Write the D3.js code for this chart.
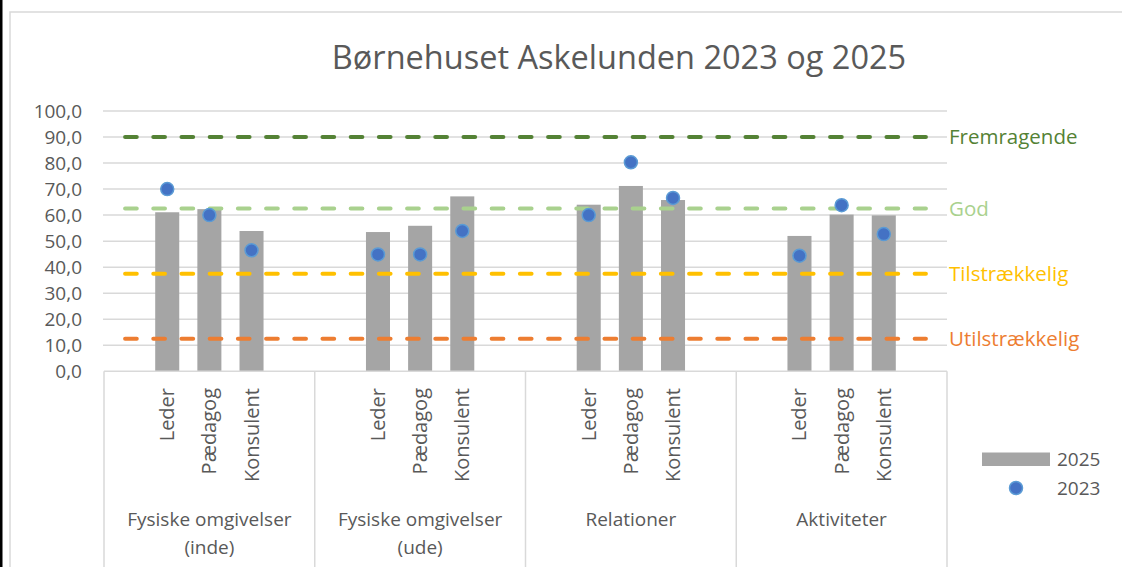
<!DOCTYPE html>
<html>
<head>
<meta charset="utf-8">
<script src="https://cdn.jsdelivr.net/npm/d3@7"></script>
<style>
  body { margin: 0; background: #fff; }
  svg text { font-family: "Open Sans", sans-serif; }
</style>
</head>
<body>
<div id="chart"></div>
<script>
let width = 1122;
let height = 567;

// data
const groups = ["Fysiske omgivelser (inde)", "Fysiske omgivelser (ude)", "Relationer", "Aktiviteter"];
const groupLines = [["Fysiske omgivelser", "(inde)"], ["Fysiske omgivelser", "(ude)"], ["Relationer"], ["Aktiviteter"]];
const roles = ["Leder", "Pædagog", "Konsulent"];
const values2025 = [61.1, 62.3, 53.9, 53.5, 55.9, 67.2, 64.0, 71.2, 65.8, 52.0, 60.2, 59.9];
const values2023 = [70.0, 60.0, 46.5, 44.9, 44.9, 53.9, 60.0, 80.3, 66.6, 44.4, 63.8, 52.7];
const levelNames = ["Fremragende", "God", "Tilstrækkelig", "Utilstrækkelig"];
const levelValues = [90, 62.5, 37.5, 12.5];
const levelColors = ["#548235", "#A9D18E", "#FFC000", "#ED7D31"];
const yTicks = [0, 10, 20, 30, 40, 50, 60, 70, 80, 90, 100];

// every group has an empty slot before and after the three roles
let slots = [];
groups.forEach((g, gi) => {
  slots.push(gi + "_a");
  roles.forEach(r => slots.push(gi + "_" + r));
  slots.push(gi + "_b");
});
let rows = [];
groups.forEach((g, gi) => roles.forEach((r, ri) => {
  rows.push({key: gi + "_" + r, role: r, v25: values2025[gi * 3 + ri], v23: values2023[gi * 3 + ri]});
}));

let svg = d3.select("#chart").append("svg")
  .attr("width", width).attr("height", height);

// outer frame
svg.append("rect").attr("x", 0).attr("y", 0).attr("width", 2.5).attr("height", height).attr("fill", "#000");
svg.append("path").attr("d", `M10,${height} V12 H${width}`)
  .attr("fill", "none").attr("stroke", "#D9D9D9").attr("stroke-width", 1.5);

let x0 = 104, x1 = 947, yTop = 111, yBot = 371.3;
let x = d3.scaleBand().domain(slots).range([x0, x1]).paddingInner(0.43).paddingOuter(0.215);
let xc = d3.scaleBand().domain(slots).range([x0, x1]);
let y = d3.scaleLinear().domain([0, 100]).range([yBot, yTop]);

svg.append("text")
  .attr("x", 619).attr("y", 69)
  .attr("text-anchor", "middle")
  .attr("font-size", 32.5).attr("fill", "#595959")
  .text("Børnehuset Askelunden 2023 og 2025");

// gridlines
svg.append("g").selectAll("line").data(yTicks.slice(1)).join("line")
  .attr("x1", x0 - 1).attr("x2", x1)
  .attr("y1", d => y(d)).attr("y2", d => y(d))
  .attr("stroke", "#D9D9D9").attr("stroke-width", 1.5);

// y axis labels
let yAxis = d3.axisLeft(y).tickValues(yTicks).tickSize(0).tickPadding(0)
  .tickFormat(d => d3.format(".1f")(d).replace(".", ","));
let ya = svg.append("g").attr("transform", `translate(82,0)`).call(yAxis);
ya.select(".domain").remove();
ya.selectAll("text").attr("font-size", 19).attr("fill", "#595959")
  .attr("font-family", "Open Sans, sans-serif");

// bars 2025
svg.append("g").selectAll("rect").data(rows).join("rect")
  .attr("x", d => x(d.key)).attr("width", x.bandwidth())
  .attr("y", d => y(d.v25)).attr("height", d => y(0) - y(d.v25))
  .attr("fill", "#A5A5A5");

// category axis: baseline and group boxes
svg.append("line").attr("x1", x0).attr("x2", x1).attr("y1", yBot).attr("y2", yBot)
  .attr("stroke", "#D9D9D9").attr("stroke-width", 1.5);
let bounds = groups.map((g, gi) => xc(gi + "_a")).concat([x1]);
svg.append("g").selectAll("line").data(bounds).join("line")
  .attr("x1", d => d).attr("x2", d => d).attr("y1", yBot).attr("y2", height)
  .attr("stroke", "#D9D9D9").attr("stroke-width", 1.5);

// level lines
let lvl = svg.append("g");
levelValues.forEach((v, i) => {
  lvl.append("line")
    .attr("x1", xc(slots[0]) + xc.bandwidth() / 2)
    .attr("x2", xc(slots[slots.length - 1]) + xc.bandwidth() / 2)
    .attr("y1", y(v)).attr("y2", y(v))
    .attr("stroke", levelColors[i]).attr("stroke-width", 4)
    .attr("stroke-linecap", "round").attr("stroke-dasharray", "11.7,16.5");
  lvl.append("text")
    .attr("x", 949).attr("y", y(v)).attr("dy", "0.36em")
    .attr("font-size", 20.5).attr("fill", levelColors[i])
    .text(levelNames[i]);
});

// dots 2023
svg.append("g").selectAll("circle").data(rows).join("circle")
  .attr("cx", d => x(d.key) + x.bandwidth() / 2).attr("cy", d => y(d.v23))
  .attr("r", 6.5).attr("fill", "#4472C4")
  .attr("stroke", "#5B9BD5").attr("stroke-width", 1.5);

// role labels (rotated)
svg.append("g").selectAll("text").data(rows).join("text")
  .attr("transform", d => `translate(${x(d.key) + x.bandwidth() / 2 + 7},388) rotate(-90)`)
  .attr("text-anchor", "end")
  .attr("font-size", 20).attr("fill", "#595959")
  .text(d => d.role);

// group labels
groupLines.forEach((lines, gi) => {
  let cx = (bounds[gi] + bounds[gi + 1]) / 2;
  let t = svg.append("text").attr("text-anchor", "middle")
    .attr("font-size", 19).attr("fill", "#595959");
  lines.forEach((l, li) => {
    t.append("tspan").attr("x", cx).attr("y", 526 + li * 28).text(l);
  });
});

// legend
svg.append("rect").attr("x", 982).attr("y", 452.5).attr("width", 68).attr("height", 13.5).attr("fill", "#A5A5A5");
svg.append("text").attr("x", 1057).attr("y", 459).attr("dy", "0.36em")
  .attr("font-size", 19).attr("fill", "#595959").text("2025");
svg.append("circle").attr("cx", 1016).attr("cy", 488).attr("r", 6.5)
  .attr("fill", "#4472C4").attr("stroke", "#5B9BD5").attr("stroke-width", 1.5);
svg.append("text").attr("x", 1057).attr("y", 488).attr("dy", "0.36em")
  .attr("font-size", 19).attr("fill", "#595959").text("2023");
</script>
</body>
</html>
